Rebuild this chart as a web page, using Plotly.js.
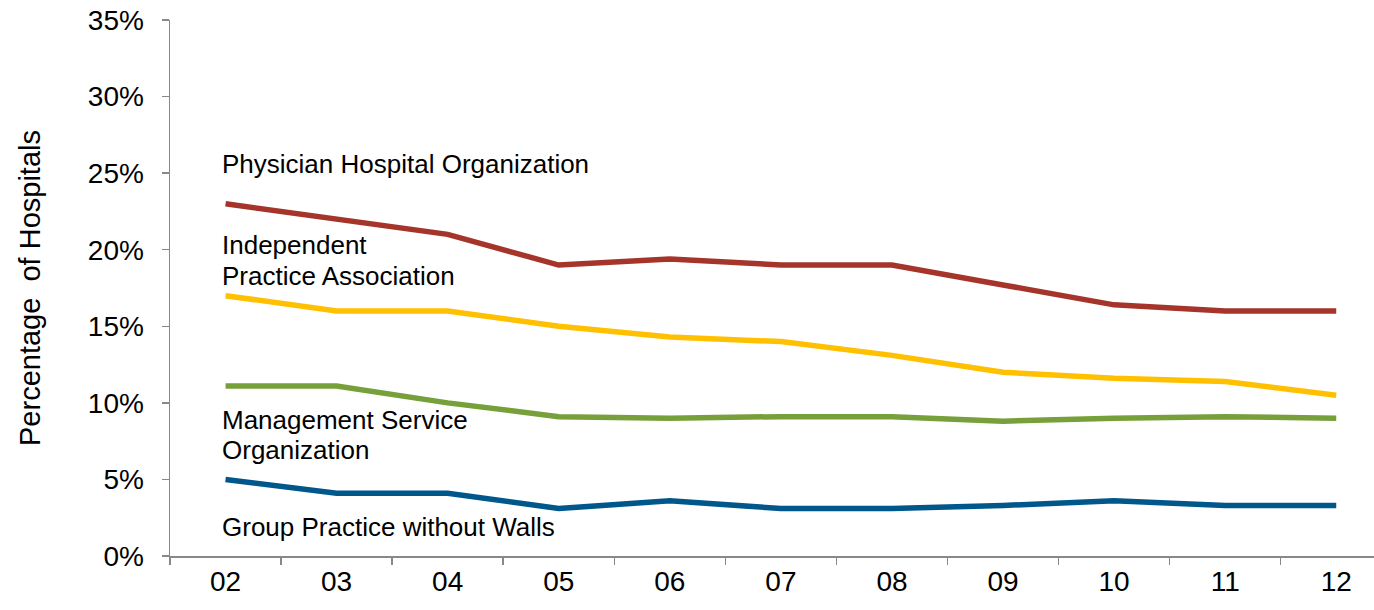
<!DOCTYPE html>
<html>
<head>
<meta charset="utf-8">
<script src="https://cdn.plot.ly/plotly-3.0.1.min.js"></script>
<style>html,body{margin:0;padding:0;background:#fff;}#chart{width:1374px;height:610px;}</style>
</head>
<body>
<div id="chart"></div>
<script>
var years = ["02","03","04","05","06","07","08","09","10","11","12"];
var pho = [23.0, 22.0, 21.0, 19.0, 19.4, 19.0, 19.0, 17.7, 16.4, 16.0, 16.0];
var ipa = [17.0, 16.0, 16.0, 15.0, 14.3, 14.0, 13.1, 12.0, 11.6, 11.4, 10.5];
var mso = [11.1, 11.1, 10.0, 9.1, 9.0, 9.1, 9.1, 8.8, 9.0, 9.1, 9.0];
var gpww = [5.0, 4.1, 4.1, 3.1, 3.6, 3.1, 3.1, 3.3, 3.6, 3.3, 3.3];
var yTickVals = [0, 5, 10, 15, 20, 25, 30, 35];
var yTickText = ["0%", "5%", "10%", "15%", "20%", "25%", "30%", "35%"];
var seriesNames = ["Physician Hospital Organization", "Independent Practice Association", "Management Service Organization", "Group Practice without Walls"];
var labelLines = ["Physician Hospital Organization", "Independent", "Practice Association", "Management Service", "Organization", "Group Practice without Walls"];
var labelY = [25.6, 20.3, 18.3, 8.9, 6.9, 1.9];

var FONT = "Liberation Sans, Arial, sans-serif";
var colors = ["#A5352A", "#FFC000", "#77A03A", "#00578B"];
var series = [pho, ipa, mso, gpww];

var traces = series.map(function(s, i) {
  return {
    x: years, y: s, type: "scatter", mode: "lines",
    line: {color: colors[i], width: 5.5},
    name: seriesNames[i],
    hoverinfo: "skip"
  };
});

var annotations = labelLines.map(function(t, i) {
  return {
    x: 0, y: labelY[i], xref: "x", yref: "y", text: t, showarrow: false,
    xanchor: "left", yanchor: "middle", align: "left", xshift: -6,
    font: {family: FONT, size: 26, color: "#000"}
  };
});

var layout = {
  width: 1374, height: 610,
  margin: {l: 170, r: 0, t: 20, b: 54},
  paper_bgcolor: "#fff", plot_bgcolor: "#fff",
  showlegend: false,
  font: {family: FONT, color: "#000"},
  xaxis: {
    type: "category", range: [-0.5, 10.34],
    showgrid: false, zeroline: false,
    showline: true, linecolor: "#888", linewidth: 1.5,
    ticks: "outside", tickson: "boundaries", ticklen: 7, tickcolor: "#888", tickwidth: 1.5,
    tickfont: {family: FONT, size: 28, color: "#000"},
    fixedrange: true
  },
  yaxis: {
    range: [0, 35], tickvals: yTickVals, ticktext: yTickText,
    showgrid: false, zeroline: false,
    showline: true, linecolor: "#888", linewidth: 1.5,
    ticks: "outside", ticklen: 7, tickcolor: "#888", tickwidth: 1.5,
    ticklabelstandoff: 12,
    tickfont: {family: FONT, size: 28, color: "#000"},
    title: {text: "Percentage  of Hospitals", font: {family: FONT, size: 29, color: "#000"}, standoff: 38},
    fixedrange: true
  },
  annotations: annotations
};

Plotly.newPlot("chart", traces, layout, {staticPlot: true, displayModeBar: false});
</script>
</body>
</html>
